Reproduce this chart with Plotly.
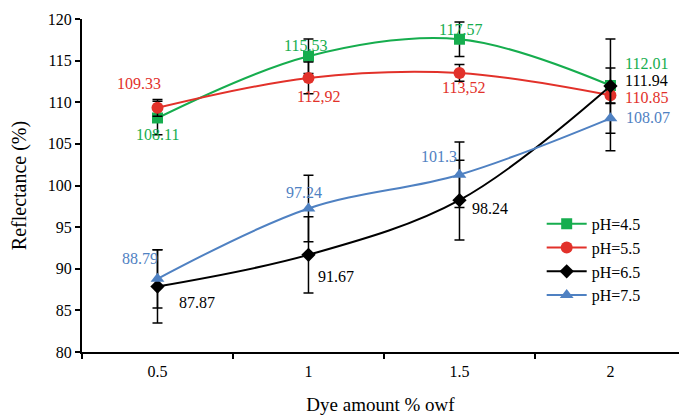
import plotly.graph_objects as go

# Dye amount categories (% owf)
dye_amount = ["0.5", "1", "1.5", "2"]

# Reflectance (%) per pH level
ph45 = [108.11, 115.53, 117.57, 112.01]
ph55 = [109.33, 112.92, 113.52, 110.85]
ph65 = [87.87, 91.67, 98.24, 111.94]
ph75 = [88.79, 97.24, 101.3, 108.07]

# Standard deviations (error bars)
ph45_err = [2.0, 2.07, 2.07, 2.1]
ph55_err = [1.0, 1.9, 1.0, 1.0]
ph65_err = [4.4, 4.57, 4.8, 5.66]
ph75_err = [3.5, 4.0, 3.93, 3.9]

# Value labels as printed next to each point
ph45_lbl = ["108.11", "115.53", "117.57", "112.01"]
ph55_lbl = ["109.33", "112,92", "113,52", "110.85"]
ph65_lbl = ["87.87", "91.67", "98.24", "111.94"]
ph75_lbl = ["88.79", "97.24", "101.3", "108.07"]

series = [
    dict(name="pH=4.5", y=ph45, err=ph45_err, lbl=ph45_lbl, color="#16AD4E",
         symbol="square", size=11,
         offs=[(0, 17), (-3, -11), (1, -10), (36, -22)]),
    dict(name="pH=5.5", y=ph55, err=ph55_err, lbl=ph55_lbl, color="#E2312A",
         symbol="circle", size=12,
         offs=[(-18, -24), (10, 19), (4, 15), (36, 2)]),
    dict(name="pH=6.5", y=ph65, err=ph65_err, lbl=ph65_lbl, color="#000000",
         symbol="diamond", size=11,
         offs=[(40, 16), (28, 22), (31, 8), (36, -6)]),
    dict(name="pH=7.5", y=ph75, err=ph75_err, lbl=ph75_lbl, color="#4F81C2",
         symbol="triangle-up", size=12,
         offs=[(-17, -20), (-4, -16), (-20, -18), (38, -1)]),
]

FONT = "Liberation Serif"

fig = go.Figure()
annotations = []
for s in series:
    fig.add_trace(go.Scatter(
        x=dye_amount, y=s["y"], name=s["name"],
        mode="lines+markers",
        line=dict(color=s["color"], width=2, shape="spline", smoothing=1),
        marker=dict(symbol=s["symbol"], size=s["size"], color=s["color"]),
        error_y=dict(type="data", array=s["err"], visible=True,
                     color="black", thickness=1.5, width=5),
    ))
    # category axis: annotations are placed by category index
    for i, (yv, txt, (dx, dy)) in enumerate(zip(s["y"], s["lbl"], s["offs"])):
        annotations.append(dict(
            x=i, y=yv, xref="x", yref="y", text=txt, showarrow=False,
            xshift=dx, yshift=-dy,
            font=dict(family=FONT, size=16, color=s["color"]),
        ))

fig.update_layout(
    width=679, height=415,
    margin=dict(l=82, r=0, t=19, b=63),
    paper_bgcolor="white", plot_bgcolor="white",
    font=dict(family=FONT, size=16, color="black"),
    annotations=annotations,
    showlegend=True,
    legend=dict(x=0.77, y=0.436, xanchor="left", yanchor="top",
                font=dict(family=FONT, size=16, color="black"),
                bgcolor="rgba(0,0,0,0)", tracegroupgap=0,
                itemwidth=40),
)

fig.update_xaxes(
    type="category", range=[-0.5, 3.454],
    showline=True, linecolor="black", linewidth=2,
    ticks="outside", tickson="boundaries", ticklen=5, tickwidth=2,
    tickcolor="black", showgrid=False, zeroline=False,
    tickfont=dict(family=FONT, size=16),
    ticklabelstandoff=4,
    title=dict(text="Dye amount % owf", font=dict(family=FONT, size=19), standoff=19),
)
fig.update_yaxes(
    range=[80, 120], dtick=5,
    showline=True, linecolor="black", linewidth=2,
    ticks="outside", ticklen=5, tickwidth=2, tickcolor="black",
    showgrid=False, zeroline=False,
    tickfont=dict(family=FONT, size=16),
    title=dict(text="Reflectance (%)", font=dict(family=FONT, size=20), standoff=16),
)

fig.write_html("out.html")
